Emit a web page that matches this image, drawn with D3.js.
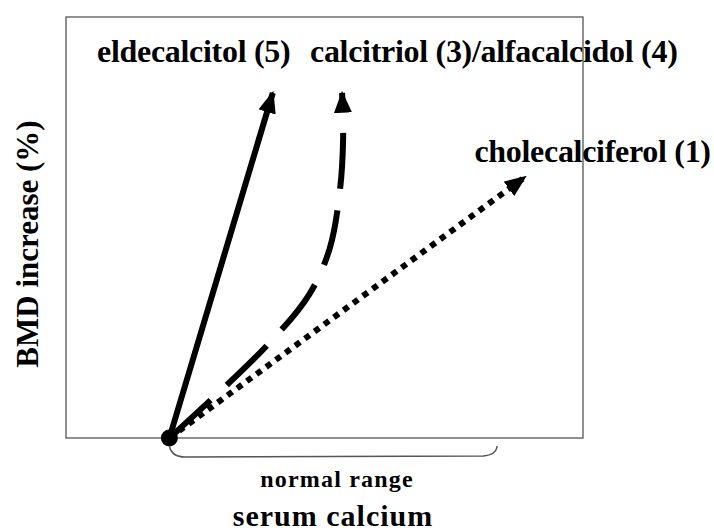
<!DOCTYPE html>
<head>
<meta charset="UTF-8">
<script src="https://d3js.org/d3.v7.min.js"></script>
<style>
  body { margin: 0; background: #fff; }
  text { font-family: "Liberation Serif", "Times New Roman", serif; font-weight: bold; fill: #000; }
</style>
</head>
<body>
<div id="chart"></div>
<script>
// schematic: serum calcium (x) vs BMD increase (y), arbitrary 0-100 units
const origin = [20, 0];
const solidPts = [[20, 0], [40, 82]];
const dashedPts = [[20, 0], [38.5, 21.5], [47, 34], [51, 45], [53, 59], [53.6, 71], [53.4, 82]];
const dottedPts = [[20, 0], [88.8, 62]];
const labels = [
  {text: "eldecalcitol (5)", x: 6, y: 89.3},
  {text: "calcitriol (3)/alfacalcidol (4)", x: 47.2, y: 89.3},
  {text: "cholecalciferol (1)", x: 79.0, y: 65.6}
];
const rangeStart = 20, rangeEnd = 83.4;
const rangeLabel = "normal range";
const xTitle = "serum calcium";
const yTitle = "BMD increase (%)";

const width = 714, height = 531;
const x = d3.scaleLinear().domain([0, 100]).range([66, 583]);
const y = d3.scaleLinear().domain([0, 100]).range([438, 17]);

const svg = d3.select("#chart").append("svg")
  .attr("width", width).attr("height", height);

const defs = svg.append("defs");
defs.append("marker")
  .attr("id", "head")
  .attr("markerUnits", "userSpaceOnUse")
  .attr("viewBox", "0 0 22 18")
  .attr("markerWidth", 22).attr("markerHeight", 18)
  .attr("refX", 20).attr("refY", 9)
  .attr("orient", "auto")
  .append("path").attr("d", "M0,0L22,9L0,18Z").attr("fill", "#000");

// frame
svg.append("rect")
  .attr("x", x(0)).attr("y", y(100))
  .attr("width", x(100) - x(0)).attr("height", y(0) - y(100))
  .attr("fill", "none").attr("stroke", "#555").attr("stroke-width", 1.3);

const line = d3.line().x(d => x(d[0])).y(d => y(d[1]));
const curve = d3.line().x(d => x(d[0])).y(d => y(d[1])).curve(d3.curveCatmullRom);

svg.append("path").attr("d", line(dottedPts))
  .attr("fill", "none").attr("stroke", "#000").attr("stroke-width", 6)
  .attr("stroke-dasharray", "6,6").attr("marker-end", "url(#head)");

svg.append("path").attr("d", curve(dashedPts))
  .attr("fill", "none").attr("stroke", "#000").attr("stroke-width", 6)
  .attr("stroke-dasharray", "56,22").attr("marker-end", "url(#head)");

svg.append("path").attr("d", line(solidPts))
  .attr("fill", "none").attr("stroke", "#000").attr("stroke-width", 6)
  .attr("marker-end", "url(#head)");

svg.append("circle")
  .attr("cx", x(origin[0])).attr("cy", y(origin[1])).attr("r", 8.5)
  .attr("fill", "#000");

// brace under the normal range
const bx0 = x(rangeStart), bx1 = x(rangeEnd), by = y(0);
const brace = d3.path();
brace.moveTo(bx0, by + 8);
brace.quadraticCurveTo(bx0 + 2, by + 19, bx0 + 16, by + 19);
brace.lineTo(bx1 - 14, by + 18);
brace.quadraticCurveTo(bx1 - 1, by + 17, bx1, by + 8);
svg.append("path").attr("d", brace.toString())
  .attr("fill", "none").attr("stroke", "#555").attr("stroke-width", 1.4);

svg.selectAll("text.lbl").data(labels).join("text")
  .attr("class", "lbl")
  .attr("x", d => x(d.x)).attr("y", d => y(d.y))
  .attr("font-size", 32)
  .attr("letter-spacing", -0.3)
  .text(d => d.text);

svg.append("text")
  .attr("x", 337).attr("y", 487)
  .attr("text-anchor", "middle").attr("font-size", 24)
  .attr("letter-spacing", 1.2)
  .text(rangeLabel);

svg.append("text")
  .attr("x", 333).attr("y", 526)
  .attr("text-anchor", "middle").attr("font-size", 30)
  .attr("letter-spacing", 1)
  .text(xTitle);

svg.append("text")
  .attr("transform", "translate(38,244) rotate(-90)")
  .attr("text-anchor", "middle").attr("font-size", 31)
  .text(yTitle);
</script>
</body>
</html>
